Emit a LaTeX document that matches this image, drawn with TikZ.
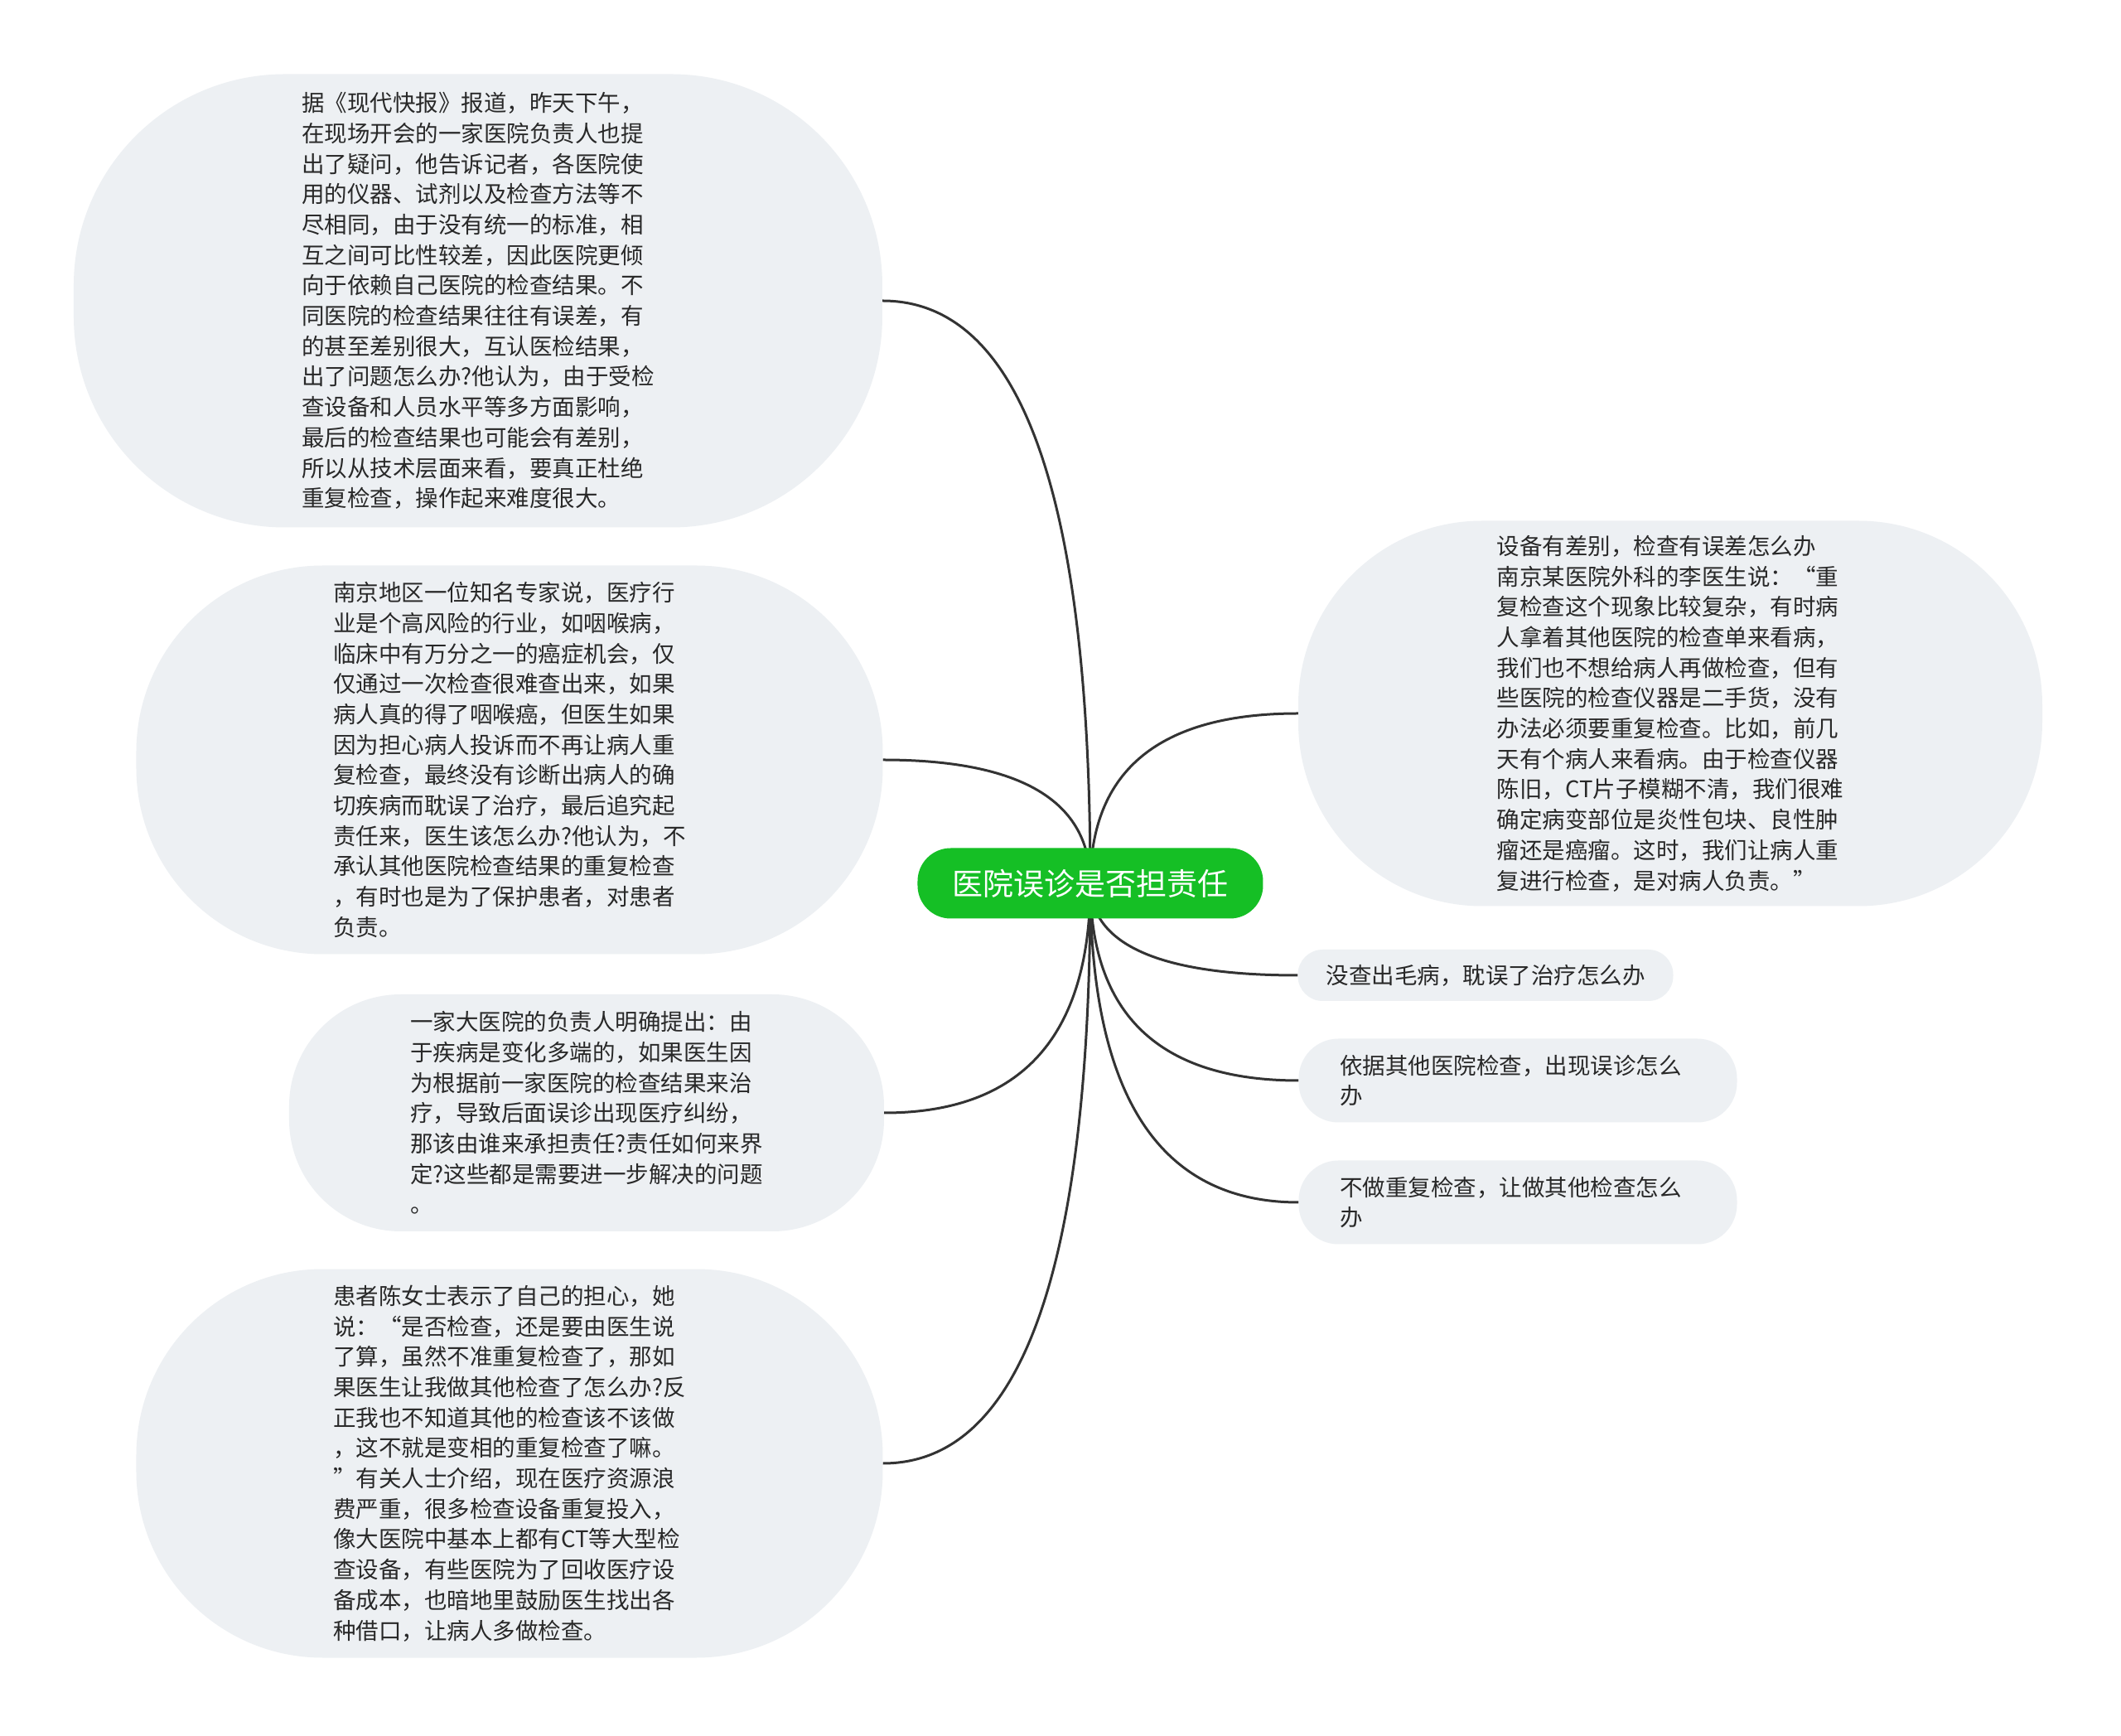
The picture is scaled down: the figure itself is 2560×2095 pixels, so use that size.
\documentclass[tikz,border=0pt]{standalone}
\usepackage{fontspec}
\newfontfamily\cjk{Noto Sans CJK SC}
\usetikzlibrary{positioning,calc,backgrounds}
\definecolor{hubgreen}{RGB}{21,191,37}
\definecolor{bubblegray}{RGB}{237,240,243}
\definecolor{linegray}{RGB}{51,51,51}
\definecolor{textgray}{RGB}{40,40,40}
\tikzset{
    hub/.style={
           rectangle,
           rounded corners=40pt,
           fill=hubgreen,
           text=white,
           minimum width=417pt,
           minimum height=85pt,
           font=\cjk\fontsize{37pt}{44pt}\selectfont,
           },
}
\tikzset{
    topic/.style={
           rectangle,
           fill=bubblegray,
           text=textgray,
           align=left,
           font=\cjk\fontsize{27.5pt}{36.7pt}\selectfont,
           },
}
\tikzset{
    branch/.style={
           draw=linegray, line width=3pt,
           to path={.. controls ($(\tikztostart)!2/3!(\tikztostart |- \tikztotarget)$)
                and ($(\tikztotarget)!2/3!(\tikztostart |- \tikztotarget)$) .. (\tikztotarget)},
           },
}

\begin{document}
\begin{tikzpicture}

 \node[hub](Root)
 {医院误诊是否担责任};

 \node[topic,
  left of=Root,
  node distance=739pt,
  yshift=703pt,
  minimum width=976pt, minimum height=547pt,
  rounded corners=255pt](Report)
 {据《现代快报》报道，昨天下午，\\
  在现场开会的一家医院负责人也提\\
  出了疑问，他告诉记者，各医院使\\
  用的仪器、试剂以及检查方法等不\\
  尽相同，由于没有统一的标准，相\\
  互之间可比性较差，因此医院更倾\\
  向于依赖自己医院的检查结果。不\\
  同医院的检查结果往往有误差，有\\
  的甚至差别很大，互认医检结果，\\
  出了问题怎么办?他认为，由于受检\\
  查设备和人员水平等多方面影响，\\
  最后的检查结果也可能会有差别，\\
  所以从技术层面来看，要真正杜绝\\
  重复检查，操作起来难度很大。};

 \node[topic,
  left of=Root,
  node distance=701pt,
  yshift=149pt,
  minimum width=901pt, minimum height=469pt,
  rounded corners=225pt](Expert)
 {南京地区一位知名专家说，医疗行\\
  业是个高风险的行业，如咽喉病，\\
  临床中有万分之一的癌症机会，仅\\
  仅通过一次检查很难查出来，如果\\
  病人真的得了咽喉癌，但医生如果\\
  因为担心病人投诉而不再让病人重\\
  复检查，最终没有诊断出病人的确\\
  切疾病而耽误了治疗，最后追究起\\
  责任来，医生该怎么办?他认为，不\\
  承认其他医院检查结果的重复检查\\
  ，有时也是为了保护患者，对患者\\
  负责。};

 \node[topic,
  left of=Root,
  node distance=608pt,
  yshift=-277pt,
  minimum width=718pt, minimum height=286pt,
  rounded corners=135pt](Dispute)
 {一家大医院的负责人明确提出：由\\
  于疾病是变化多端的，如果医生因\\
  为根据前一家医院的检查结果来治\\
  疗，导致后面误诊出现医疗纠纷，\\
  那该由谁来承担责任?责任如何来界\\
  定?这些都是需要进一步解决的问题\\
  。};

 \node[topic,
  left of=Root,
  node distance=701pt,
  yshift=-700pt,
  minimum width=901pt, minimum height=469pt,
  rounded corners=225pt](Patient)
 {患者陈女士表示了自己的担心，她\\
  说：“是否检查，还是要由医生说\\
  了算，虽然不准重复检查了，那如\\
  果医生让我做其他检查了怎么办?反\\
  正我也不知道其他的检查该不该做\\
  ，这不就是变相的重复检查了嘛。\\
  ”有关人士介绍，现在医疗资源浪\\
  费严重，很多检查设备重复投入，\\
  像大医院中基本上都有CT等大型检\\
  查设备，有些医院为了回收医疗设\\
  备成本，也暗地里鼓励医生找出各\\
  种借口，让病人多做检查。};

 \node[topic,
  right of=Root,
  node distance=700pt,
  yshift=205pt,
  minimum width=898pt, minimum height=465pt,
  rounded corners=222pt](Device)
 {设备有差别，检查有误差怎么办\\
  南京某医院外科的李医生说：“重\\
  复检查这个现象比较复杂，有时病\\
  人拿着其他医院的检查单来看病，\\
  我们也不想给病人再做检查，但有\\
  些医院的检查仪器是二手货，没有\\
  办法必须要重复检查。比如，前几\\
  天有个病人来看病。由于检查仪器\\
  陈旧，CT片子模糊不清，我们很难\\
  确定病变部位是炎性包块、良性肿\\
  瘤还是癌瘤。这时，我们让病人重\\
  复进行检查，是对病人负责。”};

 \node[topic,
  right of=Root,
  node distance=477pt,
  yshift=-111pt,
  minimum width=453pt, minimum height=62pt,
  rounded corners=30pt](Missed)
 {没查出毛病，耽误了治疗怎么办};

 \node[topic,
  right of=Root,
  node distance=516pt,
  yshift=-238pt,
  text width=430pt,
  minimum width=529pt, minimum height=101pt,
  rounded corners=48pt](Basis)
 {依据其他医院检查，出现误诊怎么\\
  办};

 \node[topic,
  right of=Root,
  node distance=516pt,
  yshift=-385pt,
  text width=430pt,
  minimum width=529pt, minimum height=101pt,
  rounded corners=48pt](Other)
 {不做重复检查，让做其他检查怎么\\
  办};

 \begin{scope}[on background layer]
 \fill[white] (-1316pt,1066pt) rectangle (1244pt,-1029pt);
 \path (Root.center) edge[branch] (Report.east)
       (Root.center) edge[branch] (Expert.east)
       (Root.center) edge[branch] (Dispute.east)
       (Root.center) edge[branch] (Patient.east)
       (Root.center) edge[branch] (Device.west)
       (Root.center) edge[branch] (Missed.west)
       (Root.center) edge[branch] (Basis.west)
       (Root.center) edge[branch] (Other.west)
 ;
 \end{scope}

\end{tikzpicture}
\end{document}
